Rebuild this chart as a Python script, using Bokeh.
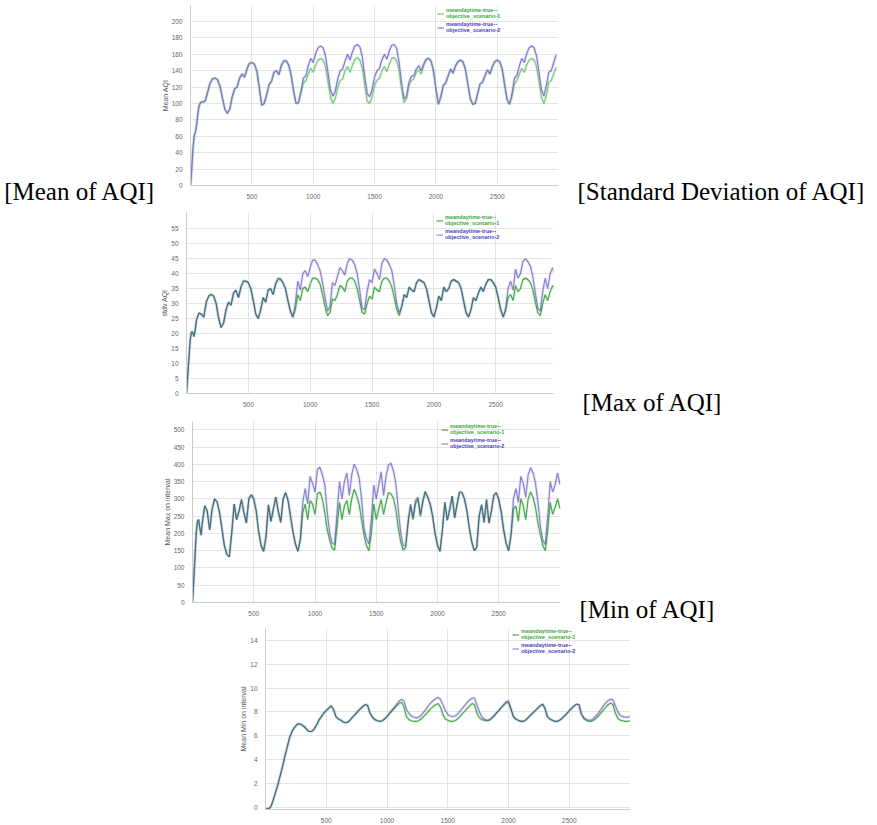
from bokeh.plotting import figure
from bokeh.models import Range1d, FixedTicker, Legend, LegendItem, LinearAxis
from bokeh.embed import file_html
from bokeh.resources import INLINE

# ---------------- data ----------------
X_TICKS = [500, 1000, 1500, 2000, 2500]
SERIES_NAMES = ["meandaytime-true--\nobjective_scenario-1",
                "meandaytime-true--\nobjective_scenario-2"]
CAPTIONS = ["[Mean of AQI]", "[Standard Deviation of AQI]", "[Max of AQI]", "[Min of AQI]"]
Y_LABELS = ["Mean AQI", "stdv AQI", "Mean Max on interval", "Mean Min on interval"]

x_a = [0, 10, 20, 30, 40, 50, 60, 70] + list(range(80, 2981, 20))
x_b = [0, 10, 20, 30, 40, 50, 60, 70] + list(range(80, 3001, 20))

mean_s1 = [0, 20, 45, 60, 65, 74, 88, 97,
           101, 102, 103, 114, 125, 130, 131, 129, 121, 107,
           93, 88, 93, 108, 118, 120, 131, 136, 132, 142,
           149, 150, 148, 140, 120, 98, 100, 110, 123, 127,
           138, 140, 135, 146, 152, 152, 147, 135, 115, 100,
           101, 112, 125, 128, 136, 143, 138, 147, 153, 155,
           153, 145, 127, 108, 100, 106, 120, 128, 130, 140,
           145, 138, 147, 154, 156, 153, 143, 122, 103, 100,
           108, 122, 128, 131, 140, 145, 139, 148, 155, 156,
           152, 140, 118, 101, 106, 122, 128, 130, 138, 141,
           136, 146, 153, 155, 152, 140, 118, 99, 108, 122,
           125, 134, 142, 137, 146, 151, 153, 151, 142, 124,
           106, 99, 100, 112, 124, 126, 134, 141, 136, 145,
           151, 153, 151, 142, 123, 105, 99, 108, 124, 128,
           136, 143, 138, 147, 153, 155, 153, 145, 127, 108,
           100, 110, 126, 128, 136, 144]
mean_s2 = [0, 20, 45, 60, 65, 74, 88, 97,
           101, 102, 103, 114, 125, 130, 131, 129, 121, 107,
           93, 88, 93, 108, 118, 120, 131, 136, 132, 142,
           149, 150, 148, 140, 120, 98, 100, 110, 123, 127,
           138, 140, 135, 146, 152, 152, 147, 135, 115, 100,
           101, 115, 131, 134, 146, 155, 150, 161, 168, 170,
           168, 158, 138, 117, 109, 115, 130, 140, 142, 152,
           160, 153, 163, 170, 172, 169, 157, 133, 112, 108,
           117, 132, 140, 143, 153, 160, 154, 164, 171, 172,
           167, 150, 125, 106, 108, 126, 133, 134, 142, 146,
           140, 148, 154, 155, 152, 140, 118, 99, 108, 122,
           125, 134, 142, 137, 146, 151, 153, 151, 142, 124,
           106, 99, 100, 112, 124, 126, 134, 141, 136, 145,
           151, 153, 151, 142, 123, 105, 99, 112, 131, 134,
           146, 155, 150, 161, 168, 170, 168, 158, 138, 117,
           109, 122, 138, 140, 150, 159]

std_s1 = [0, 6, 12, 18, 20.5, 20.5, 19, 21,
          24.5, 26.8, 26.5, 25.5, 30.5, 32.5, 33, 32.5, 30, 25,
          22, 23.5, 28, 30.5, 29.5, 33.5, 34.5, 32, 35.5, 37.5,
          37.5, 37, 35, 31, 26.5, 25, 28, 32, 30.5, 34.5,
          35, 33, 36.5, 38.5, 38.3, 37, 35, 31, 27.5, 25.5,
          28, 33, 31, 35, 35.5, 34, 36.5, 38.5, 38.5, 38,
          36.5, 33, 29, 26, 27, 31.5, 31, 33, 36, 35.5,
          34, 37.5, 38.5, 38.5, 37.5, 35, 31, 27, 26.5, 30,
          32.5, 31.5, 35.5, 34.5, 34, 37.5, 38.5, 38.5, 37.5, 35.5,
          32, 28, 26, 29, 33, 32, 35.5, 34.5, 34, 37,
          38, 37.5, 37, 35, 31, 27, 25.5, 28.5, 32.5, 31,
          35.5, 34, 35, 37.5, 38, 37.5, 37, 35, 31, 27,
          25.5, 28, 32, 31, 33.5, 35.5, 34, 36.5, 38, 38,
          37, 35.5, 32, 28, 25.5, 27.5, 32, 33, 31, 36,
          34, 35, 38, 38.5, 38, 37, 34.5, 30.5, 27, 26,
          30, 33, 31, 34, 36, 35]
std_s2 = [0, 6, 12, 18, 20.5, 20.5, 19, 21,
          24.5, 26.8, 26.5, 25.5, 30.5, 32.5, 33, 32.5, 30, 25,
          22, 23.5, 28, 30.5, 29.5, 33.5, 34.5, 32, 35.5, 37.5,
          37.5, 37, 35, 31, 26.5, 25, 28, 32, 30.5, 34.5,
          35, 33, 36.5, 38, 38, 37, 35, 31, 27.5, 25.5,
          30, 37.5, 34.5, 40, 41, 39, 42, 44.5, 44.5, 43,
          41, 37, 32, 27.5, 29, 37, 36, 39, 42, 41,
          39.5, 43.5, 45, 44.5, 43, 40, 34.5, 28.5, 28, 34,
          38, 37, 41.5, 40, 38, 43.5, 45, 44.5, 43, 41,
          36, 30, 27, 29, 33, 32, 35.5, 34.5, 34, 37,
          38, 37.5, 37, 35, 31, 27, 25.5, 28.5, 32.5, 31,
          35.5, 34, 35, 37.5, 38, 37.5, 37, 35, 31, 27,
          25.5, 28, 32, 31, 33.5, 35.5, 34, 36.5, 38, 38,
          37, 35.5, 32, 28, 25.5, 28.5, 35, 37.5, 34.5, 41.5,
          38.5, 40, 44, 45, 44, 42.5, 39, 33.5, 28.5, 27.5,
          34, 38.5, 35, 40, 42, 40]

max_s1 = [0, 60, 130, 200, 235, 240, 215, 195,
          230, 280, 265, 210, 270, 300, 292, 262, 215, 165,
          140, 132, 200, 285, 240, 265, 298, 260, 230, 300,
          312, 300, 265, 205, 165, 148, 190, 283, 235, 270,
          305, 265, 232, 300, 318, 295, 250, 205, 170, 148,
          180, 260, 285, 240, 295, 285, 255, 315, 320, 300,
          260, 210, 180, 158, 152, 220, 290, 240, 280, 295,
          255, 300, 328, 310, 285, 240, 195, 165, 150, 200,
          285, 240, 270, 298, 255, 290, 318, 315, 302, 270,
          215, 175, 152, 160, 230, 280, 240, 285, 300, 250,
          290, 320, 305, 285, 250, 200, 165, 148, 210, 290,
          238, 270, 308, 245, 285, 320, 318, 300, 265, 215,
          175, 150, 160, 250, 283, 232, 298, 230, 265, 310,
          318, 298, 262, 210, 172, 150, 190, 270, 280, 235,
          300, 280, 240, 300, 320, 305, 275, 230, 195, 165,
          150, 210, 290, 255, 275, 300, 272]
max_s2 = [0, 60, 130, 200, 235, 240, 215, 195,
          230, 280, 265, 210, 270, 300, 292, 262, 215, 165,
          140, 132, 200, 285, 240, 265, 298, 260, 230, 300,
          312, 300, 265, 205, 165, 148, 190, 283, 235, 270,
          305, 265, 232, 300, 318, 295, 250, 205, 170, 148,
          185, 290, 330, 285, 365, 345, 320, 385, 392, 370,
          340, 260, 200, 172, 168, 260, 350, 300, 350, 375,
          310, 370, 400, 385, 362, 300, 215, 185, 170, 240,
          340, 300, 340, 378, 310, 365, 398, 403, 382, 345,
          270, 200, 165, 165, 235, 285, 245, 295, 305, 255,
          295, 322, 305, 285, 250, 200, 165, 148, 210, 290,
          238, 270, 308, 245, 285, 320, 318, 300, 265, 215,
          175, 150, 160, 250, 283, 232, 298, 230, 265, 310,
          318, 298, 262, 210, 172, 150, 200, 300, 330, 290,
          365, 345, 305, 370, 390, 375, 345, 290, 220, 180,
          168, 250, 350, 320, 340, 375, 342]

min_s1 = [-0.15, -0.15, -0.15, -0.1, 0, 0.2, 0.5, 0.8,
          1.15, 1.8, 2.6, 3.4, 4.3, 5.1, 5.9, 6.4, 6.7, 6.95,
          7.0, 6.9, 6.75, 6.5, 6.35, 6.35, 6.55, 6.9, 7.3, 7.6,
          7.9, 8.1, 8.3, 8.5, 8.2, 7.6, 7.4, 7.3, 7.15, 7.1,
          7.15, 7.35, 7.6, 7.8, 8.05, 8.25, 8.45, 8.6, 8.55, 7.9,
          7.55, 7.35, 7.25, 7.2, 7.25, 7.4, 7.6, 7.85, 8.05, 8.3,
          8.5, 8.7, 8.8, 8.4, 7.6, 7.35, 7.25, 7.2, 7.2, 7.25,
          7.4, 7.6, 7.8, 8.05, 8.25, 8.45, 8.6, 8.7, 8.4, 7.8,
          7.4, 7.3, 7.2, 7.2, 7.25, 7.4, 7.6, 7.85, 8.05, 8.3,
          8.5, 8.7, 8.6, 7.9, 7.5, 7.35, 7.3, 7.25, 7.3, 7.45,
          7.65, 7.9, 8.1, 8.35, 8.55, 8.75, 8.8, 8.2, 7.6, 7.4,
          7.3, 7.2, 7.2, 7.3, 7.5, 7.7, 7.9, 8.1, 8.3, 8.5,
          8.65, 8.3, 7.6, 7.4, 7.3, 7.2, 7.2, 7.3, 7.45, 7.65,
          7.85, 8.1, 8.3, 8.5, 8.65, 8.6, 7.8, 7.45, 7.3, 7.2,
          7.2, 7.3, 7.45, 7.65, 7.9, 8.15, 8.4, 8.6, 8.75, 8.6,
          7.9, 7.45, 7.3, 7.25, 7.2, 7.2, 7.25]
min_s2 = [-0.15, -0.15, -0.15, -0.1, 0, 0.2, 0.5, 0.8,
          1.15, 1.8, 2.6, 3.4, 4.3, 5.1, 5.9, 6.4, 6.7, 6.95,
          7.0, 6.9, 6.75, 6.5, 6.35, 6.35, 6.55, 6.9, 7.3, 7.6,
          7.9, 8.1, 8.3, 8.5, 8.2, 7.6, 7.4, 7.3, 7.15, 7.1,
          7.15, 7.35, 7.6, 7.8, 8.05, 8.25, 8.45, 8.6, 8.55, 7.9,
          7.55, 7.35, 7.25, 7.2, 7.25, 7.4, 7.6, 7.9, 8.15, 8.4,
          8.65, 8.9, 9.05, 8.9, 8.2, 7.9, 7.65, 7.55, 7.5, 7.55,
          7.7, 7.95, 8.2, 8.5, 8.75, 8.95, 9.1, 9.2, 9.05, 8.6,
          8.1, 7.8, 7.65, 7.6, 7.65, 7.8, 8.05, 8.3, 8.55, 8.8,
          9.0, 9.15, 9.15, 8.6, 8.0, 7.6, 7.4, 7.3, 7.3, 7.45,
          7.65, 7.9, 8.1, 8.35, 8.6, 8.85, 8.9, 8.3, 7.6, 7.4,
          7.3, 7.2, 7.2, 7.3, 7.5, 7.7, 7.9, 8.1, 8.3, 8.5,
          8.65, 8.3, 7.6, 7.4, 7.3, 7.2, 7.2, 7.3, 7.45, 7.65,
          7.85, 8.1, 8.3, 8.5, 8.65, 8.6, 7.8, 7.5, 7.35, 7.3,
          7.3, 7.45, 7.65, 7.9, 8.2, 8.5, 8.75, 8.95, 9.05, 9.0,
          8.5, 8.0, 7.7, 7.6, 7.55, 7.55, 7.6]

Y_TICKS_MEAN = list(range(0, 201, 20))
Y_TICKS_STD = list(range(0, 56, 5))
Y_TICKS_MAX = list(range(0, 501, 50))
Y_TICKS_MIN = list(range(0, 15, 2))


def caption_axis(p, text, side, tick, standoff):
    ax = LinearAxis(y_range_name="cap", ticker=FixedTicker(ticks=[tick]),
                    major_label_overrides={tick: "\n" + text})
    ax.axis_line_color = None
    ax.major_tick_line_color = None
    ax.minor_tick_line_color = None
    ax.major_label_text_font = "Liberation Serif"
    ax.major_label_text_font_size = "25px"
    ax.major_label_text_color = "black"
    ax.major_label_standoff = standoff
    p.add_layout(ax, side)


def make_panel(x, s1, s2, ylab, yrange, xend, yticks, height, borders,
               leg_x, captions, soft):
    left, right, top, bottom = borders
    frame_h = height - top - bottom
    p = figure(width=877, height=height, x_range=Range1d(0, xend),
               y_range=Range1d(*yrange), output_backend="svg",
               toolbar_location=None, min_border_left=left,
               min_border_right=right, min_border_top=top,
               min_border_bottom=bottom)
    p.extra_y_ranges = {"cap": Range1d(0, frame_h)}
    p.outline_line_color = None
    p.background_fill_color = "white"
    p.border_fill_color = "white"
    p.xaxis.ticker = FixedTicker(ticks=X_TICKS)
    p.yaxis.ticker = FixedTicker(ticks=yticks)
    p.grid.grid_line_color = "#e4e4e4"
    p.axis.axis_line_color = "#cccccc"
    p.axis.major_tick_line_color = None
    p.axis.minor_tick_line_color = None
    p.axis.major_label_text_font_size = "6.5px"
    p.axis.major_label_text_color = "#666666"
    p.axis.major_label_standoff = 2
    p.axis.major_label_text_font = "Liberation Sans"
    p.yaxis.axis_label = ylab
    p.yaxis.axis_label_text_font_size = "7px"
    p.yaxis.axis_label_text_font_style = "normal"
    p.yaxis.axis_label_text_color = "#555555"
    p.yaxis.axis_label_text_font = "Liberation Sans"
    p.yaxis.axis_label_standoff = 0

    # soft bands
    p.line(x, s1, line_width=3, color="#93d48f", alpha=0.25)
    p.line(x, s2, line_width=3, color="#aaa4ec", alpha=0.25)
    if soft:
        r1 = p.line(x, s1, line_width=1.2, color="#7cc977")
        r2 = p.line(x, s2, line_width=1.2, color="#7a72d2", alpha=0.95)
    else:
        r1 = p.line(x, s1, line_width=1.2, color="#47a84d")
        r2 = p.line(x, s2, line_width=1.2, color="#4a3fb0", alpha=0.6)

    for name, rend, col, ly in ((SERIES_NAMES[0], r1, "#3aa83a", frame_h - 14),
                                (SERIES_NAMES[1], r2, "#4b3fc0", frame_h - 28)):
        leg = Legend(items=[LegendItem(label=name, renderers=[rend])],
                     location=(leg_x, ly))
        leg.label_text_font_size = "5.5px"
        leg.label_text_font_style = "bold"
        leg.label_text_font = "Liberation Sans"
        leg.label_text_color = col
        leg.label_text_line_height = 1.25
        leg.background_fill_alpha = 0
        leg.border_line_color = None
        leg.padding = 0
        leg.margin = 0
        leg.spacing = 0
        leg.glyph_width = 7
        leg.glyph_height = 7
        leg.label_standoff = 2
        leg.label_height = 7
        p.add_layout(leg)

    for text, side, tick, standoff in captions:
        caption_axis(p, text, side, tick, standoff)
    return p


# canvases: p1 0-210, p2 210-420, p3 420-628, p4 628-825
p1 = make_panel(x_a, mean_s1, mean_s2, Y_LABELS[0], (0, 219.5), 2999,
                Y_TICKS_MEAN, 210, (190, 319, 5, 25), 247,
                [(CAPTIONS[0], "left", 10, -3), (CAPTIONS[1], "right", 10, 13)], True)
p2 = make_panel(x_a, std_s1, std_s2, Y_LABELS[1], (0, 60.4), 2967,
                Y_TICKS_STD, 210, (186, 324, 2, 27), 250,
                [(CAPTIONS[2], "right", 7, 23)], False)
p3 = make_panel(x_b, max_s1, max_s2, Y_LABELS[2], (0, 524), 3004,
                Y_TICKS_MAX, 208, (192, 317, 1, 26), 249,
                [(CAPTIONS[3], "right", 9, 13)], False)
p4 = make_panel(x_b, min_s1, min_s2, Y_LABELS[3], (-0.2, 15.0), 3004,
                Y_TICKS_MIN, 197, (265, 247, 0, 14), 247,
                [], False)

open("out.html", "w").write(file_html([p1, p2, p3, p4], INLINE))
